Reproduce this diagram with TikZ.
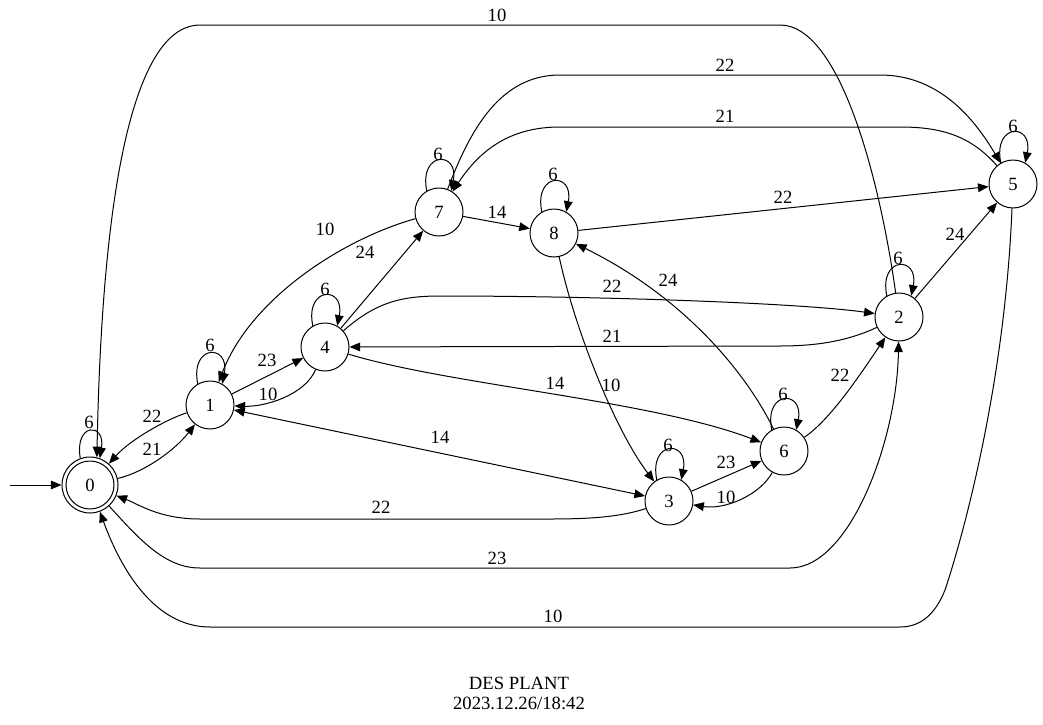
\documentclass[tikz,border=0pt]{standalone}
\usepackage{fontspec}
\setmainfont{Liberation Serif}
\usetikzlibrary{arrows.meta}
\begin{document}
\begin{tikzpicture}[x=0.75pt,y=-0.75pt,
  st/.style={circle,draw,line width=0.75pt,minimum size=36pt,inner sep=0pt,font=\fontsize{14}{15}\selectfont},
  acc/.style={st,minimum size=42pt},
  e/.style={line width=0.75pt,-{Triangle[length=8pt,width=6.5pt]}},
  eb/.style={line width=0.75pt,{Triangle[length=8pt,width=6.5pt]}-{Triangle[length=8pt,width=6.5pt]}},
  lbl/.style={inner sep=0pt,font=\fontsize{14}{15}\selectfont}]
\useasboundingbox (0,0) rectangle (1043,725);

% states
\node[acc] (n0) at (90,485) {0};
\draw[line width=0.75pt] (n0.center) circle (18pt);
\node[st] (n1) at (210,405) {1};
\node[st] (n4) at (325,347) {4};
\node[st] (n7) at (439,212) {7};
\node[st] (n8) at (554,233) {8};
\node[st] (n5) at (1013,184) {5};
\node[st] (n2) at (899,317) {2};
\node[st] (n6) at (784,451) {6};
\node[st] (n3) at (669,501) {3};

% initial arrow
\coordinate (s) at (10,485);
\draw[e] (s) -- (n0);

% self loops
\draw[e] (n0.110) .. controls +(-6,-36) and +(6,-36) .. (n0.70);
\draw[e] (n1.120) .. controls +(-8,-40) and +(8,-40) .. (n1.60);
\draw[e] (n4.120) .. controls +(-8,-40) and +(8,-40) .. (n4.60);
\draw[e] (n7.120) .. controls +(-8,-40) and +(8,-40) .. (n7.60);
\draw[e] (n8.120) .. controls +(-8,-40) and +(8,-40) .. (n8.60);
\draw[e] (n5.120) .. controls +(-8,-40) and +(8,-40) .. (n5.60);
\draw[e] (n2.120) .. controls +(-8,-40) and +(8,-40) .. (n2.60);
\draw[e] (n6.120) .. controls +(-8,-40) and +(8,-40) .. (n6.60);
\draw[e] (n3.120) .. controls +(-8,-40) and +(8,-40) .. (n3.60);

% transitions
\draw[e] (n0) .. controls (145,472) and (175,450) .. (n1);
\draw[e] (n1) .. controls (165,420) and (130,440) .. (n0);
\draw[e] (n1) -- (n4);
\draw[e] (n4) .. controls (305,395) and (265,407) .. (n1);
\draw[e] (n4) -- (n7);
\draw[e] (n7) .. controls (340,240) and (250,300) .. (n1);
\draw[e] (n7) -- (n8);
\draw[e] (n8) -- (n5);
\draw[e] (n8) .. controls (575,330) and (615,430) .. (n3);
\draw[e] (n7) .. controls (470,130) and (500,75) .. (560,75) -- (880,75) .. controls (940,75) and (975,120) .. (n5);
\draw[e] (n5) .. controls (970,135) and (940,127) .. (900,127) -- (560,127) .. controls (510,127) and (480,150) .. (n7);
\draw[e] (n2) .. controls (880,180) and (840,25) .. (780,25) -- (200,25) .. controls (145,25) and (103,140) .. (n0.76);
\draw[e] (n2) -- (n5);
\draw[e] (n4) .. controls (375,303) and (400,296) .. (440,296) .. controls (600,296) and (800,303) .. (n2);
\draw[e] (n2) .. controls (850,340) and (820,346) .. (780,346) -- (n4);
\draw[e] (n4) .. controls (450,385) and (650,400) .. (n6);
\draw[e] (n6) .. controls (830,420) and (860,375) .. (n2);
\draw[e] (n6) .. controls (750,380) and (690,300) .. (n8);
\draw[e] (n6) .. controls (760,495) and (725,510) .. (n3);
\draw[e] (n3) -- (n6);
\draw[eb] (n1) -- (n3);
\draw[e] (n3) .. controls (620,517) and (590,519) .. (550,519) -- (200,519) .. controls (160,519) and (140,505) .. (n0);
\draw[e] (n0) .. controls (140,540) and (165,568) .. (200,568) -- (790,568) .. controls (850,568) and (897,440) .. (n2);
\draw[e] (n5) .. controls (1005,380) and (965,530) .. (945,590) .. controls (935,615) and (920,627) .. (900,627) -- (210,627) .. controls (160,627) and (125,580) .. (n0);

% labels
\node[lbl] (l0) at (89,422) {6};
\node[lbl] (l1) at (152,449) {21};
\node[lbl] (l2) at (152,416) {22};
\node[lbl] (l3) at (210,345) {6};
\node[lbl] (l4) at (267,360) {23};
\node[lbl] (l5) at (268,394) {10};
\node[lbl] (l6) at (325,289) {6};
\node[lbl] (l7) at (365,252) {24};
\node[lbl] (l8) at (325,229) {10};
\node[lbl] (l9) at (438,154) {6};
\node[lbl] (l10) at (497,212) {14};
\node[lbl] (l11) at (553,174) {6};
\node[lbl] (l12) at (783,197) {22};
\node[lbl] (l13) at (611,385) {10};
\node[lbl] (l14) at (1013,126) {6};
\node[lbl] (l15) at (725,116) {21};
\node[lbl] (l16) at (725,65) {22};
\node[lbl] (l17) at (497,15) {10};
\node[lbl] (l18) at (898,258) {6};
\node[lbl] (l19) at (955,234) {24};
\node[lbl] (l20) at (612,286) {22};
\node[lbl] (l21) at (612,336) {21};
\node[lbl] (l22) at (555,383) {14};
\node[lbl] (l23) at (783,394) {6};
\node[lbl] (l24) at (840,375) {22};
\node[lbl] (l25) at (668,280) {24};
\node[lbl] (l26) at (726,497) {10};
\node[lbl] (l27) at (726,462) {23};
\node[lbl] (l28) at (668,445) {6};
\node[lbl] (l29) at (440,437) {14};
\node[lbl] (l30) at (381,507) {22};
\node[lbl] (l31) at (497,558) {23};
\node[lbl] (l32) at (553,616) {10};

% title
\node[lbl,align=center] (title) at (519,693) {DES PLANT\\2023.12.26/18:42};
\end{tikzpicture}
\end{document}
